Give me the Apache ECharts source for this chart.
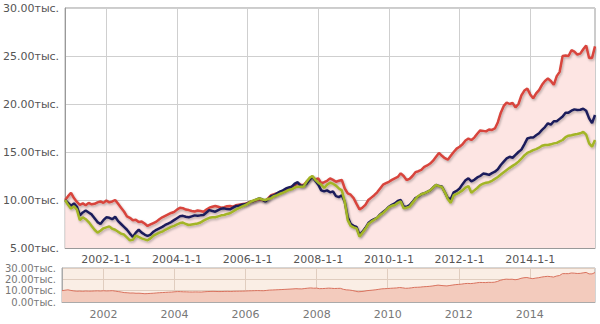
<!DOCTYPE html>
<html>
<head>
<meta charset="utf-8">
<script src="https://cdn.jsdelivr.net/npm/echarts@6/dist/echarts.min.js"></script>
<style>
  html, body { margin: 0; padding: 0; background: #fff; }
  #chart { width: 600px; height: 324px; }
</style>
</head>
<body>
<div id="chart"></div>
<script>
// monthly points, 2000-11 .. 2015-11
const startYear = 2000;
const startMonth = 11;

const redValues = [
  10000, 10400, 10750, 10200, 9800, 9500, 9650, 9450, 9700, 9550, 9600, 9750,
  9850, 9700, 9950, 9750, 9850, 10000, 9600, 9200, 8800, 8300, 8150, 7900,
  7950, 7700, 7750, 7550, 7300, 7450, 7600, 7750, 8000, 8200, 8350, 8500,
  8650, 8750, 9000, 9200, 9150, 9000, 8950, 8850, 8800, 8900, 8850, 8780,
  9000, 9200, 9300, 9380, 9300, 9200, 9250, 9350, 9380, 9300, 9450, 9500,
  9550, 9600, 9700, 9830, 9900, 10000, 10080, 10000, 9930, 10200, 10500, 10600,
  10700, 10850, 10950, 11100, 11250, 11400, 11550, 11750, 11600, 11550, 11900, 12200,
  12430, 12150, 12250, 11750, 11850, 12000, 12250, 12100, 11900, 12000, 12080, 11200,
  10700, 10550, 10200, 9600, 9030, 9200, 9500, 10000, 10250, 10500, 10800, 11200,
  11600, 11750, 11900, 12100, 12250, 12400, 12780, 12500, 12080, 12200, 12500, 12900,
  13000, 13130, 13450, 13600, 13800, 14100, 14500, 14900, 14600, 14350, 14200, 14600,
  15000, 15350, 15550, 15800, 16200, 16400, 16250, 16500, 16900, 17250, 17200, 17150,
  17350, 17300, 17450, 18100, 19100, 19800, 20150, 20000, 20100, 19650, 20000, 20900,
  21400, 21600, 21000, 20600, 21100, 21450, 22000, 22400, 22650, 22400, 22000, 22900,
  23350, 25000, 25050, 25000, 25600, 25450, 25150, 25250, 25700, 26100, 24800, 24800,
  26000
];

const navyValues = [
  10000, 9700, 9400, 9650, 9300, 8400, 8700, 8900, 8700, 8500, 8100, 7700,
  7500, 7900, 8200, 8150, 8000, 8250, 7800, 7500, 7200, 6900, 6500, 6150,
  6600, 6900, 6600, 6400, 6250, 6400, 6700, 6900, 7050, 7200, 7400, 7550,
  7700, 7900, 8100, 8300, 8350, 8250, 8200, 8300, 8400, 8350, 8400, 8440,
  8700, 8950, 8850, 8780, 8950, 9100, 9130, 9050, 9030, 9200, 9370, 9400,
  9500, 9550, 9650, 9800, 9900, 10050, 10170, 10050, 9850, 10100, 10400, 10500,
  10700, 10870, 11000, 11200, 11300, 11390, 11700, 11850, 11450, 11500, 11700, 12100,
  12430, 12000, 11600, 11000, 10900, 11000, 10800, 10900, 10400, 10300, 10500, 9800,
  8200, 7500, 7300, 7200, 6350, 6700, 7100, 7600, 7850, 8000, 8150, 8500,
  8750, 9000, 9300, 9500, 9650, 9900, 10000, 9300, 9300, 9480, 9800, 10200,
  10350, 10600, 10700, 10850, 11000, 11300, 11560, 11450, 11400, 10800, 10200, 10100,
  10800, 10950, 11200, 11650, 12050, 12250, 11950, 12100, 12350, 12500, 12750, 12700,
  12620, 12800, 12950, 13200, 13650, 14000, 14340, 14500, 14400, 14700, 15000, 15250,
  15800, 16400, 16500, 16500, 16750, 16950, 17300, 17600, 17990, 17850, 18200, 18200,
  18450, 18700, 19100, 19100, 19300, 19440, 19380, 19400, 19500, 19300, 18500, 18000,
  18850
];

const greenValues = [
  10000, 9500, 9100, 9350, 9000, 7900, 8200, 8000, 7700, 7300, 6900, 6600,
  6800, 7050, 7150, 7250, 7000, 6900, 6700, 6500, 6400, 6100, 5800, 5850,
  6300, 6150, 6000, 5900, 5800, 6000, 6300, 6450, 6600, 6700, 6900, 7050,
  7200, 7300, 7450, 7600, 7650, 7500, 7400, 7450, 7500, 7550, 7650, 7850,
  8000, 8150, 8200, 8200, 8300, 8400, 8440, 8550, 8620, 8800, 9000, 9150,
  9300, 9450, 9600, 9820, 9950, 10050, 10170, 10050, 10000, 10100, 10200, 10400,
  10500, 10650, 10760, 10900, 11050, 11110, 11300, 11390, 11390, 11400, 11900, 12300,
  12500, 12100, 11800, 11600, 11250, 11600, 11800, 11700, 11500, 11200, 11000, 9800,
  7900, 7300, 7150, 7050, 6180, 6600, 7000, 7500, 7750, 7950, 8150, 8450,
  8650, 8950, 9250, 9400, 9480, 9700, 9850, 9150, 9200, 9300, 9700, 10100,
  10420, 10600, 10700, 10850, 11000, 11300, 11560, 11450, 11350, 10800, 10100, 9700,
  10500, 10650, 10800, 11000, 11300, 11450, 10750, 11000, 11250, 11560, 11700, 11800,
  11850, 12000, 12200, 12400, 12650, 12900, 13130, 13350, 13550, 13750, 14000, 14300,
  14650, 14900, 15030, 15200, 15300, 15450, 15650, 15730, 15730, 15800, 15900, 15950,
  16100, 16250, 16550, 16700, 16750, 16820, 16880, 16950, 17100, 16800, 15900, 15550,
  16250
];

const categories = [];
for (let i = 0; i < redValues.length; i++) {
  const k = startMonth - 1 + i;
  categories.push((startYear + Math.floor(k / 12)) + '-' + (k % 12 + 1) + '-1');
}

// January of even years gets a label and a grid line
const markIdx = [];
categories.forEach((c, i) => {
  const p = c.split('-');
  if (p[1] === '1' && (+p[0]) % 2 === 0) markIdx.push(i);
});
const onMark = idx => markIdx.indexOf(idx) >= 0;

const fontFamily = '"DejaVu Sans", Verdana, sans-serif';
const thous = v => (v / 1000).toFixed(2) + 'тыс.';

const lineShadow = {
  shadowColor: 'rgba(0, 0, 0, 0.28)',
  shadowBlur: 2,
  shadowOffsetX: 1,
  shadowOffsetY: 1.5,
};

const chart = echarts.init(document.getElementById('chart'), null, { renderer: 'svg' });

chart.setOption({
  animation: false,
  backgroundColor: '#fff',
  grid: [
    { left: 62, right: 5, top: 8, height: 240, show: true, borderColor: '#999', borderWidth: 1, backgroundColor: '#fff' },
    { left: 62, right: 5, top: 268, height: 34, show: true, borderColor: '#aaa', borderWidth: 1, backgroundColor: '#faeee5' },
  ],
  xAxis: [
    {
      type: 'category',
      gridIndex: 0,
      data: categories,
      boundaryGap: false,
      axisLine: { show: true, lineStyle: { color: '#999', width: 1 } },
      axisTick: { show: false },
      axisLabel: { interval: onMark, color: '#555', fontSize: 11, fontFamily, margin: 6 },
      splitLine: { show: true, interval: onMark, lineStyle: { color: '#cfcfcf', width: 1, type: 'solid' } },
    },
    {
      type: 'category',
      gridIndex: 1,
      data: categories,
      boundaryGap: false,
      axisLine: { show: true, lineStyle: { color: '#aaa', width: 1 } },
      axisTick: { show: false },
      axisLabel: {
        interval: onMark,
        color: '#777',
        fontSize: 11,
        fontFamily,
        margin: 7,
        formatter: v => v.split('-')[0],
      },
      splitLine: { show: true, interval: onMark, lineStyle: { color: '#e0cdbf', width: 1, type: 'solid' } },
    },
  ],
  yAxis: [
    {
      type: 'value',
      gridIndex: 0,
      min: 5000,
      max: 30000,
      interval: 5000,
      axisLine: { show: true, lineStyle: { color: '#999', width: 1 } },
      axisTick: { show: false },
      axisLabel: { color: '#555', fontSize: 11, fontFamily, margin: 6, formatter: thous },
      splitLine: { show: true, lineStyle: { color: '#cfcfcf', width: 1, type: 'solid' } },
    },
    {
      type: 'value',
      gridIndex: 1,
      min: 0,
      max: 30000,
      interval: 10000,
      axisLine: { show: true, lineStyle: { color: '#aaa', width: 1 } },
      axisTick: { show: false },
      axisLabel: { color: '#777', fontSize: 10, lineHeight: 10, fontFamily, margin: 6, formatter: thous },
      splitLine: { show: true, lineStyle: { color: '#e0cdbf', width: 1, type: 'solid' } },
    },
  ],
  series: [
    {
      type: 'line',
      xAxisIndex: 0,
      yAxisIndex: 0,
      data: redValues,
      showSymbol: false,
      lineStyle: Object.assign({ color: '#d8443c', width: 2.5 }, lineShadow),
      areaStyle: { color: '#fde5e3', opacity: 1 },
      z: 2,
    },
    {
      type: 'line',
      xAxisIndex: 0,
      yAxisIndex: 0,
      data: navyValues,
      showSymbol: false,
      lineStyle: Object.assign({ color: '#1c1f5c', width: 2.5 }, lineShadow),
      z: 3,
    },
    {
      type: 'line',
      xAxisIndex: 0,
      yAxisIndex: 0,
      data: greenValues,
      showSymbol: false,
      lineStyle: Object.assign({ color: '#a3b526', width: 2.5 }, lineShadow),
      z: 4,
    },
    {
      type: 'line',
      xAxisIndex: 1,
      yAxisIndex: 1,
      data: redValues,
      showSymbol: false,
      lineStyle: { color: '#d9735f', width: 1 },
      areaStyle: { color: '#f3cbbd', opacity: 1 },
      z: 1,
    },
  ],
});
</script>
</body>
</html>
